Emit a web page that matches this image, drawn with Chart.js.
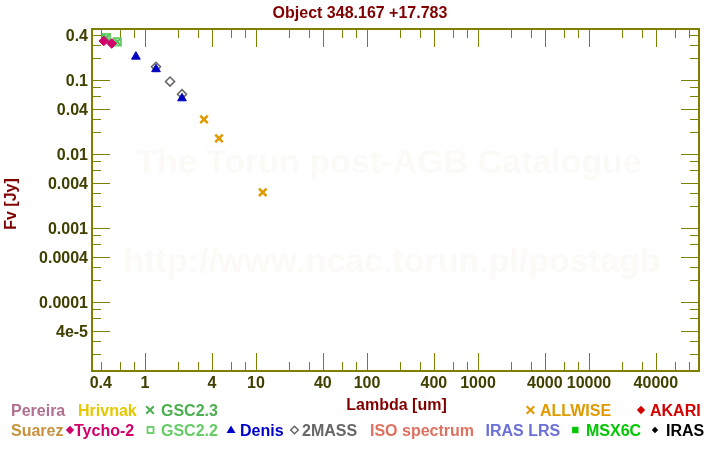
<!DOCTYPE html>
<html><head><meta charset="utf-8">
<script src="https://cdn.jsdelivr.net/npm/chart.js@4"></script>
<style>html,body{margin:0;padding:0;background:#fff;} #wrap{width:720px;height:450px;position:relative;}</style>
</head><body><div id="wrap"><canvas id="c" width="720" height="450"></canvas></div>
<script>
// ---- data ----
const titleText = 'Object 348.167 +17.783';
const xTitle = 'Lambda [um]';
const yTitle = 'Fv [Jy]';
const watermark1 = 'The Torun post-AGB Catalogue';
const watermark2 = 'http://www.ncac.torun.pl/postagb';

const xTickValues = [0.4,0.6,0.8,1,2,3,4,6,8,10,20,30,40,60,80,100,200,300,400,600,800,1000,2000,3000,4000,6000,8000,10000,20000,30000,40000,60000,80000];
const xLabelValues = [0.4,1,4,10,40,100,400,1000,4000,10000,40000];
const xTickLabels = ['0.4','1','4','10','40','100','400','1000','4000','10000','40000'];
const yTickValues = [0.4,0.3,0.2,0.1,0.08,0.06,0.04,0.03,0.02,0.01,0.008,0.006,0.004,0.003,0.002,0.001,0.0008,0.0006,0.0004,0.0003,0.0002,0.0001,0.00008,0.00006,0.00004,0.00003,0.00002];
const yLabelValues = [0.4,0.1,0.04,0.01,0.004,0.001,0.0004,0.0001,0.00004];
const yTickLabels = ['0.4','0.1','0.04','0.01','0.004','0.001','0.0004','0.0001','4e-5'];

const gsc22Wave = [0.449, 0.562];
const gsc22Flux = [0.375, 0.328];
const gsc23Wave = [0.449, 0.562];
const gsc23Flux = [0.375, 0.328];
const tychoWave = [0.425, 0.501];
const tychoFlux = [0.337, 0.311];
const denisWave = [0.828, 1.256, 2.154];
const denisFlux = [0.207, 0.140, 0.0566];
const massWave = [1.256, 1.68, 2.154];
const massFlux = [0.151, 0.0954, 0.0643];
const wiseWave = [3.40, 4.64, 11.5];
const wiseFlux = [0.0294, 0.0163, 0.00304];

const xMin = 0.333, xMax = 97900;
const yMin = 1.17e-5, yMax = 0.489;

const FONT = "'Liberation Sans', Arial, sans-serif";
const pts = (xs, ys) => xs.map((x, i) => ({x: x, y: ys[i]}));
const near = (a, b) => Math.abs(a - b) / b < 1e-6;

const bgPlugin = {
  id: 'bg',
  beforeDatasetsDraw(chart) {
    const ctx = chart.ctx, a = chart.chartArea;
    const xs = chart.scales.x, ys = chart.scales.y;
    ctx.save();
    // watermark
    ctx.fillStyle = 'rgb(252,250,246)';
    ctx.font = 'bold 34px ' + FONT;
    ctx.textAlign = 'center'; ctx.textBaseline = 'middle';
    ctx.fillText(watermark1, 389, 164);
    ctx.fillText(watermark2, 392, 263);
    // frame
    ctx.strokeStyle = '#808000';
    ctx.lineWidth = 2;
    ctx.strokeRect(a.left, a.top, a.right - a.left, a.bottom - a.top);
    ctx.lineWidth = 1;
    ctx.beginPath();
    xTickValues.forEach(v => {
      const px = Math.round(xs.getPixelForValue(v)) + 0.5;
      const long = xLabelValues.some(l => near(v, l)) && !near(v, 0.4);
      const len = long ? 18 : 9;
      ctx.moveTo(px, a.bottom); ctx.lineTo(px, a.bottom - len);
      ctx.moveTo(px, a.top); ctx.lineTo(px, a.top + len);
    });
    yTickValues.forEach(v => {
      const py = Math.round(ys.getPixelForValue(v)) + 0.5;
      const long = yLabelValues.some(l => near(v, l)) && !near(v, 0.4);
      const len = long ? 18 : 9;
      ctx.moveTo(a.left, py); ctx.lineTo(a.left + len, py);
      ctx.moveTo(a.right, py); ctx.lineTo(a.right - len, py);
    });
    ctx.stroke();
    ctx.restore();
  },
  afterDraw(chart) {
    const ctx = chart.ctx, a = chart.chartArea;
    ctx.save();
    ctx.font = 'bold 16px ' + FONT;
    ctx.textBaseline = 'alphabetic';
    ctx.textAlign = 'center';
    ctx.fillStyle = '#800000';
    ctx.fillText(titleText, 360, 18);
    ctx.fillText(xTitle, (a.left + a.right) / 2 + 1, 410);
    ctx.save();
    ctx.translate(16, 204);
    ctx.rotate(-Math.PI / 2);
    ctx.fillText(yTitle, 0, 0);
    ctx.restore();

    // legend
    const legend = [
      {t:'Pereira', x:11, r:0, c:'#b0708f'},
      {t:'Hrivnak', x:78, r:0, c:'#e6c800'},
      {t:'GSC2.3', x:161, r:0, c:'#4caf50', s:'cross', sx:150},
      {t:'ALLWISE', x:540, r:0, c:'#e09a00', s:'cross', sx:530.5},
      {t:'AKARI', x:650, r:0, c:'#d40000', s:'diamond', sx:641},
      {t:'Suarez', x:11, r:1, c:'#c8913c'},
      {t:'Tycho-2', x:74, r:1, c:'#d0006a', s:'diamond', sx:70},
      {t:'GSC2.2', x:161, r:1, c:'#66cc66', s:'square', sx:150.5},
      {t:'Denis', x:240, r:1, c:'#0000cc', s:'triangle', sx:231},
      {t:'2MASS', x:302, r:1, c:'#666666', s:'odiamond', sx:294.5},
      {t:'ISO spectrum', x:370, r:1, c:'#e07060'},
      {t:'IRAS LRS', x:485.5, r:1, c:'#6a70d8'},
      {t:'MSX6C', x:586, r:1, c:'#00c800', s:'fsquare', sx:575.3},
      {t:'IRAS', x:666, r:1, c:'#000000', s:'dot', sx:655}
    ];
    ctx.textAlign = 'left';
    legend.forEach(it => {
      const base = it.r === 0 ? 416 : 436;
      const cy = base - 6;
      ctx.fillStyle = it.c; ctx.strokeStyle = it.c;
      ctx.fillText(it.t, it.x, base);
      if (!it.s) return;
      const x = it.sx;
      ctx.beginPath();
      if (it.s === 'cross') {
        ctx.lineWidth = 2;
        ctx.moveTo(x - 3.8, cy - 3.8); ctx.lineTo(x + 3.8, cy + 3.8);
        ctx.moveTo(x + 3.8, cy - 3.8); ctx.lineTo(x - 3.8, cy + 3.8);
        ctx.stroke();
      } else if (it.s === 'diamond') {
        ctx.moveTo(x, cy - 4.2); ctx.lineTo(x + 4.2, cy); ctx.lineTo(x, cy + 4.2); ctx.lineTo(x - 4.2, cy); ctx.closePath();
        ctx.fill();
      } else if (it.s === 'odiamond') {
        ctx.lineWidth = 1.5;
        ctx.moveTo(x, cy - 3.8); ctx.lineTo(x + 3.8, cy); ctx.lineTo(x, cy + 3.8); ctx.lineTo(x - 3.8, cy); ctx.closePath();
        ctx.stroke();
      } else if (it.s === 'square') {
        ctx.lineWidth = 1.8;
        ctx.strokeRect(x - 3, cy - 3, 6, 6);
      } else if (it.s === 'fsquare') {
        ctx.fillRect(x - 3.2, cy - 3.2, 6.4, 6.4);
      } else if (it.s === 'triangle') {
        ctx.moveTo(x, cy - 4.5); ctx.lineTo(x + 4.5, cy + 3); ctx.lineTo(x - 4.5, cy + 3); ctx.closePath();
        ctx.fill();
      } else if (it.s === 'dot') {
        ctx.moveTo(x, cy - 3.2); ctx.lineTo(x + 3.2, cy); ctx.lineTo(x, cy + 3.2); ctx.lineTo(x - 3.2, cy); ctx.closePath();
        ctx.fill();
      }
    });
    ctx.restore();
  }
};

const tickFont = {family: FONT, size: 16, weight: 'bold'};

new Chart(document.getElementById('c'), {
  type: 'scatter',
  data: {
    datasets: [
      {label:'Tycho-2', data: pts(tychoWave, tychoFlux), pointStyle:'rectRot', radius:4.8, borderColor:'#d0006a', backgroundColor:'#d0006a', borderWidth:1},
      {label:'GSC2.2', data: pts(gsc22Wave, gsc22Flux), pointStyle:'rect', radius:5.3, borderColor:'#66cc66', backgroundColor:'rgba(102,204,102,0.45)', borderWidth:1.8},
      {label:'GSC2.3', data: pts(gsc23Wave, gsc23Flux), pointStyle:'crossRot', radius:5, borderColor:'#4caf50', borderWidth:1.8},
      {label:'Denis', data: pts(denisWave, denisFlux), pointStyle:'triangle', radius:5, borderColor:'#0000c0', backgroundColor:'#0000c0', borderWidth:1},
      {label:'2MASS', data: pts(massWave, massFlux), pointStyle:'rectRot', radius:4.5, borderColor:'#666666', backgroundColor:'rgba(0,0,0,0)', borderWidth:1.6},
      {label:'ALLWISE', data: pts(wiseWave, wiseFlux), pointStyle:'crossRot', radius:5.3, borderColor:'#e09a00', borderWidth:2.6}
    ]
  },
  options: {
    responsive: false,
    animation: false,
    events: [],
    layout: {padding: {top: 29, right: 21, left: 0, bottom: 0}},
    plugins: {legend: {display: false}, title: {display: false}, tooltip: {enabled: false}},
    scales: {
      x: {
        type: 'logarithmic', min: xMin, max: xMax, bounds: 'data',
        grid: {display: false, drawTicks: false},
        border: {display: false},
        afterBuildTicks: s => { s.ticks = xTickValues.map(v => ({value: v})); },
        afterFit: s => { s.height = 79; },
        ticks: {
          autoSkip: false, maxRotation: 0, padding: 3, color: '#404000', font: tickFont,
          callback: v => { const i = xLabelValues.findIndex(l => near(v, l)); return i >= 0 ? xTickLabels[i] : ''; }
        }
      },
      y: {
        type: 'logarithmic', min: yMin, max: yMax, bounds: 'data',
        grid: {display: false, drawTicks: false},
        border: {display: false},
        afterBuildTicks: s => { s.ticks = yTickValues.map(v => ({value: v})); },
        afterFit: s => { s.width = 92; },
        ticks: {
          autoSkip: false, padding: 4, labelOffset: 1.5, color: '#404000', font: tickFont,
          callback: v => { const i = yLabelValues.findIndex(l => near(v, l)); return i >= 0 ? yTickLabels[i] : ''; }
        }
      }
    }
  },
  plugins: [bgPlugin]
});
</script>
</body></html>
